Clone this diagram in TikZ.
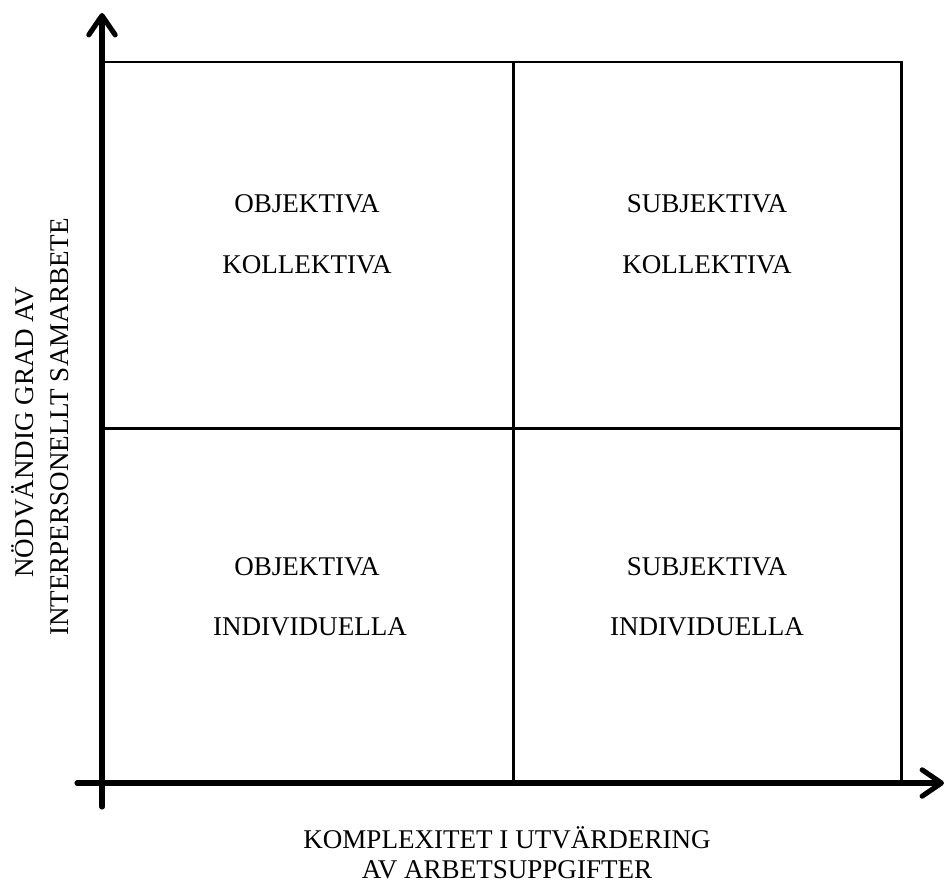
\documentclass[tikz,border=0pt]{standalone}
\usepackage{fontspec}
\setmainfont{Liberation Serif}
\usetikzlibrary{arrows.meta}
\begin{document}
\begin{tikzpicture}[x=0.02cm,y=-0.02cm,
  axis/.style={line width=2.9pt,line cap=round,-{Straight Barb[length=11pt,width=15pt,line cap=round,line join=round]}},
  grid/.style={line width=1.7pt},
  lbl/.style={font=\fontsize{15.4}{18}\selectfont,anchor=base,inner sep=0pt},
  vlbl/.style={font=\fontsize{15.4}{18}\selectfont,anchor=base,inner sep=0pt,rotate=90}]
\useasboundingbox (0,0) rectangle (946,886);
% box corners
\coordinate (tl) at (102,62);
\coordinate (tm) at (513,62);
\coordinate (tr) at (901,62);
\coordinate (ml) at (102,428);
\coordinate (mr) at (901,428);
\coordinate (bm) at (513,783);
\coordinate (br) at (901,783);
% grid
\draw[grid] (tl) -- (tr) -- (br);
\draw[grid] (tm) -- (bm);
\draw[grid] (ml) -- (mr);
% axes
\coordinate (ystart) at (102,807);
\coordinate (yend) at (102,13);
\coordinate (xstart) at (77,783);
\coordinate (xend) at (944,783);
\draw[axis] (ystart) -- (yend);
\draw[axis] (xstart) -- (xend);
% cell labels
\node[lbl] (a1) at (307,212) {OBJEKTIVA};
\node[lbl] (a2) at (307,273) {KOLLEKTIVA};
\node[lbl] (b1) at (707,212) {SUBJEKTIVA};
\node[lbl] (b2) at (707,273) {KOLLEKTIVA};
\node[lbl] (c1) at (307,575) {OBJEKTIVA};
\node[lbl] (c2) at (310,635) {INDIVIDUELLA};
\node[lbl] (d1) at (707,575) {SUBJEKTIVA};
\node[lbl] (d2) at (707,635) {INDIVIDUELLA};
% axis labels
\node[lbl] (x1) at (507,848) {KOMPLEXITET I UTVÄRDERING};
\node[lbl] (x2) at (507,878) {AV ARBETSUPPGIFTER};
\node[vlbl] (y1) at (33,432) {NÖDVÄNDIG GRAD AV};
\node[vlbl] (y2) at (68,427) {INTERPERSONELLT SAMARBETE};
\end{tikzpicture}
\end{document}
